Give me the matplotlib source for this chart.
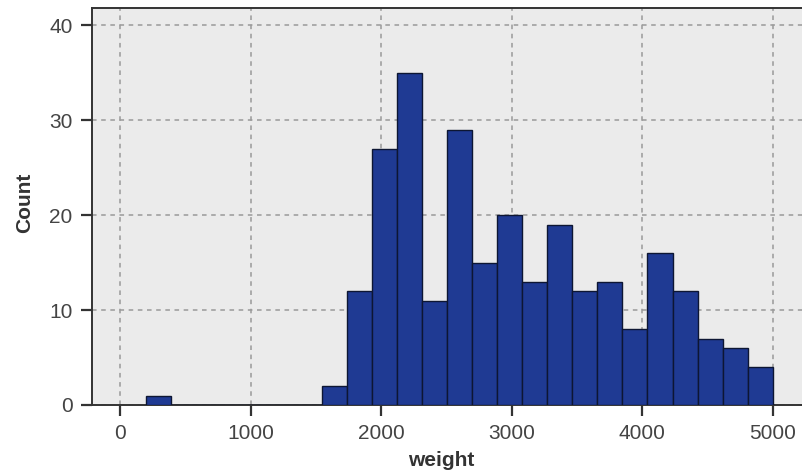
import numpy as np
import matplotlib
matplotlib.use("Agg")
import matplotlib.pyplot as plt

# histogram of weight, 25 equal bins between 200 and 5000
bin_lo = 200
bin_hi = 5000
n_bins = 25
counts = [1, 0, 0, 0, 0, 0, 0, 2, 12, 27, 35, 11, 29, 15, 20,
          13, 19, 12, 13, 8, 16, 12, 7, 6, 4]
xticks = [0, 1000, 2000, 3000, 4000, 5000]
yticks = [0, 10, 20, 30, 40]

edges = np.linspace(bin_lo, bin_hi, n_bins + 1)
centers = (edges[:-1] + edges[1:]) / 2

plt.rcParams['font.family'] = ['Liberation Sans', 'DejaVu Sans']

fig = plt.figure(figsize=(8.02, 4.70), dpi=100)
ax = fig.add_axes([92 / 802, 65 / 470, 718 / 802, 397 / 470])
ax.set_facecolor('#ebebeb')

ax.hist(centers, bins=edges, weights=counts, color='#1f3a93',
        edgecolor='#0d1633', linewidth=1.0, zorder=3)

ax.set_xlim(-215, 5285)
ax.set_ylim(0, 41.8)
ax.set_xticks(xticks)
ax.set_yticks(yticks)
ax.grid(True, color='#9a9a9a', linestyle=(0, (3, 3)), linewidth=1.1, zorder=0)

for s in ['left', 'bottom', 'top']:
    ax.spines[s].set_color('#333333')
    ax.spines[s].set_linewidth(1.4)
ax.spines['right'].set_visible(False)

ax.tick_params(direction='out', length=8, width=1.6, color='#333333',
               labelsize=15, labelcolor='#444444', pad=6)

ax.set_xlabel('weight', fontsize=15, fontweight='bold', color='#333333')
ax.set_ylabel('Count', fontsize=15, fontweight='bold', color='#333333')
ax.xaxis.set_label_coords(0.487, -0.116)
ax.yaxis.set_label_coords(-0.081, 0.51)

fig.savefig('out.png', dpi=100)
